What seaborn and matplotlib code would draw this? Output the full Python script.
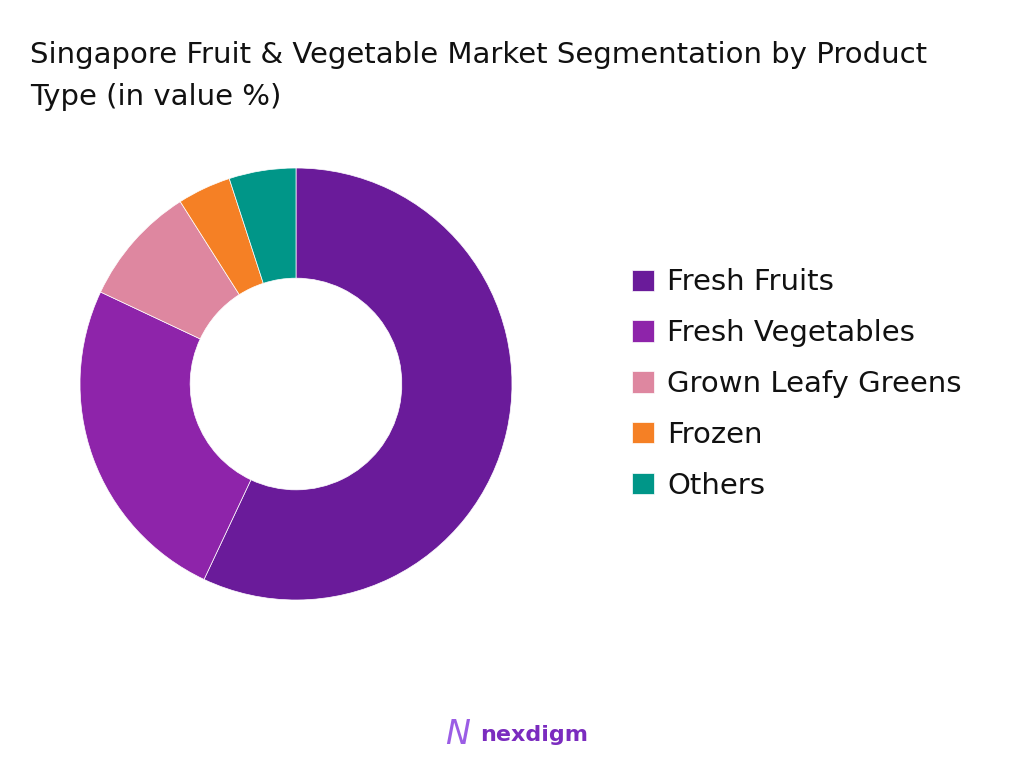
import matplotlib
matplotlib.use("Agg")
import matplotlib.pyplot as plt
import seaborn as sns

# segment shares (value %)
segments = ["Fresh Fruits", "Fresh Vegetables", "Grown Leafy Greens", "Frozen", "Others"]
shares = [57, 25, 9, 4, 5]
colors = ["#6A1B9A", "#8E24AA", "#DE87A0", "#F58025", "#009688"]

sns.set_theme(style="white")
plt.rcParams['font.family'] = ['DejaVu Sans']

fig = plt.figure(figsize=(10.24, 7.68), dpi=100)
ax = fig.add_axes([80 / 1024, 168 / 768, 432 / 1024, 432 / 768])

wedges, _ = ax.pie(shares, colors=colors, startangle=90, counterclock=False,
                   wedgeprops=dict(width=0.51, edgecolor="white", linewidth=0.5))
ax.set_xlim(-1, 1)
ax.set_ylim(-1, 1)
ax.set_aspect("equal")

fig.text(30 / 1024, 1 - 76 / 768,
         "Singapore Fruit & Vegetable Market Segmentation by Product\nType (in value %)",
         fontsize=21, color="#111111", va="center", ha="left", linespacing=1.62)

leg = fig.legend(wedges, segments, loc="center left", bbox_to_anchor=(606 / 1024, 1 - 384 / 768),
                 frameon=False, fontsize=21, handlelength=0.75, handleheight=0.75,
                 handletextpad=0.45, labelspacing=0.78, labelcolor="#111111")

fig.text(534 / 1024, 1 - 735 / 768, "nexdigm", fontsize=16, fontweight="bold",
         color="#7B2CBF", ha="center", va="center")
fig.text(458 / 1024, 1 - 735 / 768, "N", fontsize=24, color="#9B5DE5",
         ha="center", va="center", style="italic")

fig.savefig("out.png", dpi=100)
